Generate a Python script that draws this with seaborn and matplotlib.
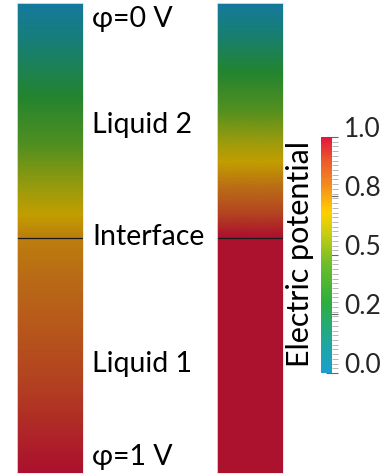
import numpy as np
import pandas as pd
import matplotlib
matplotlib.use("Agg")
import matplotlib.pyplot as plt
import seaborn as sns
from matplotlib.colors import LinearSegmentedColormap, Normalize, to_rgb
from matplotlib.cm import ScalarMappable
from matplotlib.ticker import MultipleLocator

# ---- data ----
depth = [0.0, 0.5, 1.0]                 # normalised depth from top (interface at 0.5)
left_potential = [0.0, 0.75, 1.0]       # bar 1: potential along depth
right_potential = [0.0, 1.0, 1.0]       # bar 2: potential along depth
cbar_ticks = [0.0, 0.25, 0.5, 0.75, 1.0]
cbar_ticklabels = ["0.0", "0.2", "0.5", "0.8", "1.0"]
text_labels = ["φ=0 V", "Liquid 2", "Interface", "Liquid 1", "φ=1 V"]
text_depth_px = [27, 133, 245, 372, 465]

# colour map (bright for legend, shaded for the bars)
cmap_pos = [0.0, 0.13, 0.30, 0.46, 0.59, 0.68, 0.80, 0.90, 1.0]
cmap_hex = ["#1b9fd1", "#1fa79a", "#2eae3e", "#6cbd2a", "#c8cc12",
            "#ffd000", "#f48a1e", "#ec5a2a", "#e3173d"]

sns.set_theme(style="white")
plt.rcParams["font.family"] = ["Lato", "DejaVu Sans"]

cmap_bright = LinearSegmentedColormap.from_list(
    "bright", list(zip(cmap_pos, cmap_hex)))
shade = 0.76
cmap_dark = LinearSegmentedColormap.from_list(
    "dark", list(zip(cmap_pos, [tuple(c * shade for c in to_rgb(h)) for h in cmap_hex])))
norm = Normalize(0, 1)

W, H = 392, 475
fig = plt.figure(figsize=(W / 100, H / 100), dpi=100)
fig.patch.set_facecolor("white")

def px_axes(x0, y0, x1, y1):
    return fig.add_axes([x0 / W, 1 - y1 / H, (x1 - x0) / W, (y1 - y0) / H])

df = pd.DataFrame({"depth": depth, "left": left_potential, "right": right_potential})
step = df["depth"].diff().iloc[1]

for col, (x0, x1) in [("left", (16.7, 82.7)), ("right", (217.0, 283.0))]:
    ax = px_axes(x0, 3.3, x1, 472.7)
    vals = df[col].to_numpy()[:, None]
    # cell centres sit on the sampled depths; values interpolated before colour mapping
    ax.imshow(vals, cmap=cmap_dark, norm=norm, aspect="auto",
              interpolation="bilinear", interpolation_stage="data",
              extent=(0, 1, df["depth"].iloc[-1] + step / 2, df["depth"].iloc[0] - step / 2))
    ax.axhline(0.5, color="#1a1a1a", lw=0.9)
    ax.set_xlim(0, 1)
    ax.set_ylim(1, 0)
    ax.set_xticks([])
    ax.set_yticks([])
    for s in ax.spines.values():
        s.set_visible(True)
        s.set_color("#dfe6ea")
        s.set_linewidth(0.6)

for lab, yb in zip(text_labels, text_depth_px):
    fig.text(92 / W, 1 - yb / H, lab, fontsize=20.5, color="black",
             ha="left", va="baseline")

cax = px_axes(320.7, 137.0, 332.3, 373.0)
cb = fig.colorbar(ScalarMappable(norm=norm, cmap=cmap_bright), cax=cax)
cb.outline.set_visible(False)
cb.set_ticks(cbar_ticks)
cb.set_ticklabels(cbar_ticklabels)
cax.yaxis.set_minor_locator(MultipleLocator(0.02))
cax.tick_params(axis="y", which="major", direction="inout", length=9, width=0.8,
                color="#666666", labelsize=19, pad=4, right=True, left=False)
cax.tick_params(axis="y", which="minor", direction="out", length=4, width=0.6,
                color="#aaaaaa", right=True, left=False)
for t in cax.get_yticklabels():
    t.set_va("baseline")
fig.text(300 / W, 1 - 254 / H, "Electric potential", rotation=90, fontsize=22,
         ha="center", va="center", color="black")

fig.savefig("out.png", dpi=100, facecolor="white")
